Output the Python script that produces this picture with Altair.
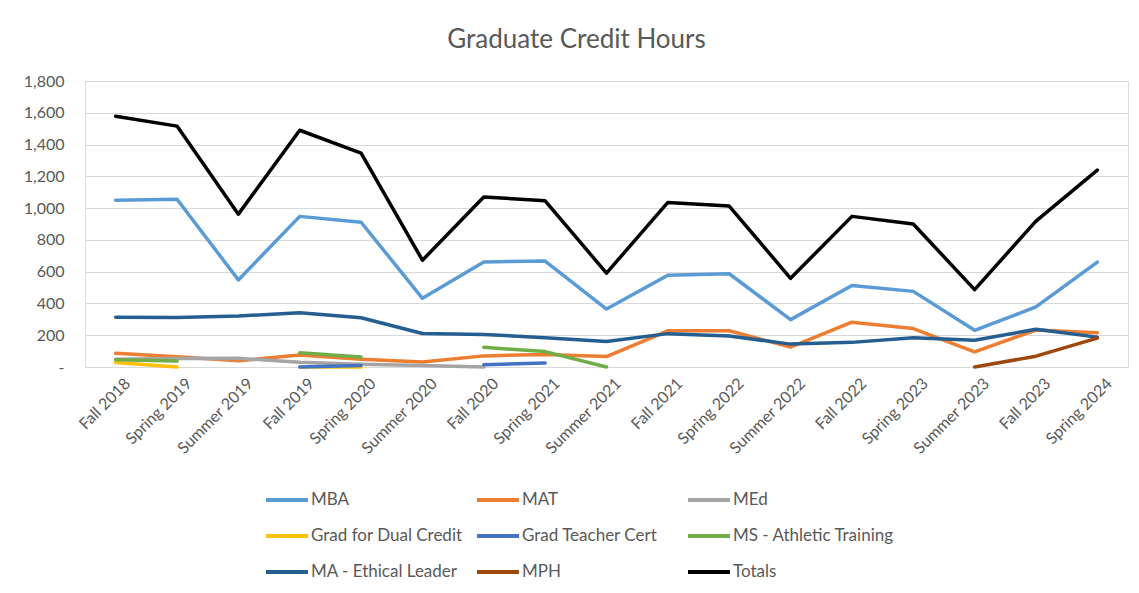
import altair as alt
import pandas as pd

terms = ["Fall 2018", "Spring 2019", "Summer 2019", "Fall 2019", "Spring 2020",
         "Summer 2020", "Fall 2020", "Spring 2021", "Summer 2021", "Fall 2021",
         "Spring 2022", "Summer 2022", "Fall 2022", "Spring 2023", "Summer 2023",
         "Fall 2023", "Spring 2024"]

mba = [1050, 1056, 548, 948, 911, 432, 661, 667, 365, 577, 587, 298, 513, 476, 231, 378, 660]
mat = [86, 64, 39, 75, 48, 31, 70, 79, 66, 228, 228, 125, 282, 242, 95, 233, 216]
med = [48, 53, 55, 30, 17, 10, 0, None, None, None, None, None, None, None, None, None, None]
dual = [28, 0, None, 0, 0, None, None, None, None, None, None, None, None, None, None, None, None]
teacher = [None, None, None, 0, 10, None, 14, 25, None, None, None, None, None, None, None, None, None]
msat = [45, 37, None, 89, 63, None, 124, 97, 0, None, None, None, None, None, None, None, None]
maeth = [313, 311, 321, 342, 310, 211, 205, 184, 160, 210, 195, 144, 155, 184, 168, 238, 188]
mph = [None, None, None, None, None, None, None, None, None, None, None, None, None, None, 0, 68, 182]
totals = [1578, 1516, 962, 1490, 1346, 672, 1070, 1046, 591, 1036, 1013, 558, 948, 900, 487, 918, 1239]

names = ["MBA", "MAT", "MEd", "Grad for Dual Credit", "Grad Teacher Cert",
         "MS - Athletic Training", "MA - Ethical Leader", "MPH", "Totals"]
colors = ["#5B9BD5", "#ED7D31", "#A5A5A5", "#FFC000", "#4472C4",
          "#70AD47", "#255E91", "#9E480E", "#000000"]
series = [mba, mat, med, dual, teacher, msat, maeth, mph, totals]

rows = []
for name, vals in zip(names, series):
    seg = 0
    gap = True
    for i, (t, v) in enumerate(zip(terms, vals)):
        if v is None:
            gap = True
            continue
        if gap:
            seg += 1
            gap = False
        rows.append({"term": t, "hours": v, "program": name,
                     "seg": f"{name}-{seg}", "idx": i})
df = pd.DataFrame(rows)

grey = "#595959"

chart = alt.Chart(df).mark_line(
    strokeWidth=3.5, strokeCap="round", strokeJoin="round"
).encode(
    x=alt.X("term:N", sort=terms, title=None,
            axis=alt.Axis(labelAngle=-45, labelFontSize=16, labelColor=grey,
                          labelFont="Lato", ticks=False, domain=False, grid=False,
                          labelPadding=8, labelOffset=6)),
    y=alt.Y("hours:Q", title=None,
            scale=alt.Scale(domain=[0, 1800], nice=False),
            axis=alt.Axis(values=list(range(0, 2000, 200)),
                          labelExpr="datum.value == 0 ? '-' : format(datum.value, ',')",
                          labelFontSize=16, labelColor=grey, labelFont="Lato",
                          ticks=False, domain=False, gridColor="#D9D9D9",
                          gridWidth=1, labelPadding=21)),
    color=alt.Color("program:N",
                    scale=alt.Scale(domain=names, range=colors),
                    legend=alt.Legend(title=None, orient="none", legendX=179, legendY=396,
                                      columns=3, direction="horizontal",
                                      symbolType="stroke", symbolSize=1764,
                                      symbolStrokeWidth=4, labelFontSize=17,
                                      labelColor=grey, labelFont="Lato",
                                      labelOffset=1, columnPadding=-4, rowPadding=5,
                                      gridAlign="all", labelLimit=300)),
    detail="seg:N",
    order="idx:Q",
).properties(
    width=1043,
    height=286,
    title=alt.TitleParams("Graduate Credit Hours", fontSize=26, font="Lato",
                          color=grey, fontWeight="normal", anchor="middle",
                          dx=-30, offset=20),
    autosize=alt.AutoSizeParams(type="none"),
    padding={"left": 77, "top": 73, "right": 3, "bottom": 216},
).configure_view(stroke=None).configure(background="white")

chart.save("out.html", embed_options={"renderer": "svg", "actions": False})
